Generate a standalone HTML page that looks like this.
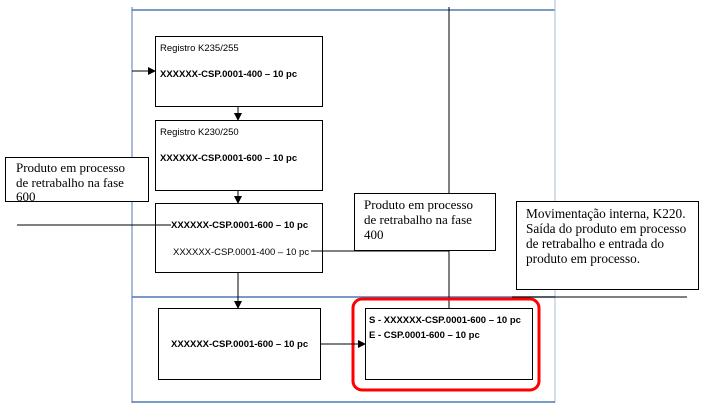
<!DOCTYPE html>
<html><head><meta charset="utf-8"><style>
html,body{margin:0;padding:0;background:#fff;}
svg{display:block;}
.s{font-family:"Liberation Serif",serif;font-size:13px;fill:#000;}
.c{font-family:"Liberation Sans",sans-serif;font-size:9.5px;fill:#000;}
.b{font-weight:bold;}
</style></head><body>
<svg width="706" height="413" viewBox="0 0 706 413" xmlns="http://www.w3.org/2000/svg">
<defs><marker id="a" markerWidth="8" markerHeight="8" refX="7" refY="4" orient="auto" markerUnits="userSpaceOnUse"><path d="M0,0 L8,4 L0,8 z" fill="#000"/></marker></defs>
<line x1="132" y1="7" x2="132" y2="403" stroke="#4f7ab0" stroke-width="1"/>
<line x1="132" y1="10" x2="555" y2="10" stroke="#4f7ab0" stroke-width="1.5"/>
<line x1="555" y1="0" x2="555" y2="403" stroke="#a8bcd6" stroke-width="1"/>
<line x1="132" y1="297" x2="555" y2="297" stroke="#4f7ab0" stroke-width="1.5"/>
<line x1="132" y1="402" x2="555" y2="402" stroke="#4f7ab0" stroke-width="1.5"/>
<line x1="449" y1="7" x2="449" y2="308" stroke="#000" stroke-width="1"/>
<rect x="155.5" y="36.5" width="167" height="70" fill="#fff" stroke="#000"/>
<text class="c" x="160" y="51">Registro K235/255</text>
<text class="c b" x="160" y="77">XXXXXX-CSP.0001-400 – 10 pc</text>
<rect x="155.5" y="120.5" width="167" height="70" fill="#fff" stroke="#000"/>
<text class="c" x="160" y="135">Registro K230/250</text>
<text class="c b" x="160" y="161">XXXXXX-CSP.0001-600 – 10 pc</text>
<rect x="155.5" y="203.5" width="167" height="69" fill="#fff" stroke="#000"/>
<text class="c b" x="171" y="228">XXXXXX-CSP.0001-600 – 10 pc</text>
<text class="c" x="173" y="255">XXXXXX-CSP.0001-400 – 10 pc</text>
<rect x="158.5" y="308.5" width="162" height="71" fill="#fff" stroke="#000"/>
<text class="c b" x="171" y="347">XXXXXX-CSP.0001-600 – 10 pc</text>
<rect x="353" y="299" width="186" height="91" rx="9" fill="none" stroke="#f00" stroke-width="3"/>
<rect x="365.5" y="308.5" width="167" height="71" fill="#fff" stroke="#000"/>
<text class="c b" x="369" y="323">S - XXXXXX-CSP.0001-600 – 10 pc</text>
<text class="c b" x="369" y="338">E - CSP.0001-600 – 10 pc</text>
<line x1="132" y1="71" x2="155" y2="71" stroke="#000" marker-end="url(#a)"/>
<line x1="238" y1="107" x2="238" y2="120" stroke="#000" marker-end="url(#a)"/>
<line x1="238" y1="191" x2="238" y2="203" stroke="#000" marker-end="url(#a)"/>
<line x1="238" y1="273" x2="238" y2="308" stroke="#000" marker-end="url(#a)"/>
<line x1="321" y1="344" x2="365" y2="344" stroke="#000" marker-end="url(#a)"/>
<rect x="5.5" y="157.5" width="143" height="44" fill="#fff" stroke="#000"/>
<text class="s" x="16" y="172">Produto em processo</text>
<text class="s" x="16" y="187">de retrabalho na fase</text>
<text class="s" x="16" y="201">600</text>
<line x1="17" y1="225" x2="171" y2="225" stroke="#000"/>
<rect x="354.5" y="193.5" width="141" height="57" fill="#fff" stroke="#000"/>
<text class="s" x="364" y="209">Produto em processo</text>
<text class="s" x="364" y="224">de retrabalho na fase</text>
<text class="s" x="364" y="239">400</text>
<line x1="311" y1="251" x2="449" y2="251" stroke="#000"/>
<rect x="516.5" y="201.5" width="182" height="88" fill="#fff" stroke="#000"/>
<text class="s" x="526" y="218" style="font-size:13.3px">Movimentação interna, K220.</text>
<text class="s" x="526" y="233" style="font-size:13.3px">Saída do produto em processo</text>
<text class="s" x="526" y="248" style="font-size:13.3px">de retrabalho e entrada do</text>
<text class="s" x="526" y="263" style="font-size:13.3px">produto em processo.</text>
<line x1="512" y1="297" x2="687" y2="297" stroke="#000"/>
</svg>
</body></html>
